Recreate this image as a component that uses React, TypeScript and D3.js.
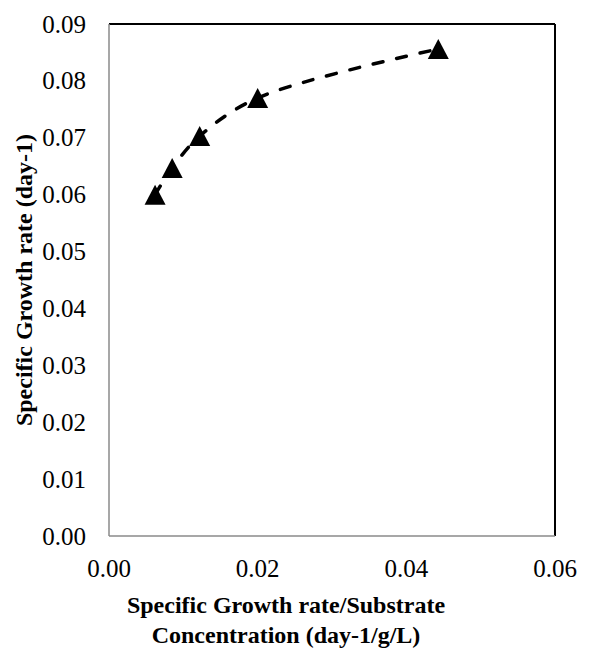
import React from "react";
import * as d3 from "d3";

// Specific growth rate / substrate concentration (day-1/g/L)
const ratioValues = [0.0062, 0.0085, 0.0122, 0.02, 0.0443];
// Specific growth rate (day-1)
const growthValues = [0.06, 0.0647, 0.0703, 0.077, 0.0856];

const xTicks = [0, 0.02, 0.04, 0.06];
const yTicks = [0, 0.01, 0.02, 0.03, 0.04, 0.05, 0.06, 0.07, 0.08, 0.09];

const xTitleLines = ["Specific Growth rate/Substrate", "Concentration (day-1/g/L)"];
const yTitle = "Specific Growth rate (day-1)";

const W = 600;
const H = 655;
const M = { left: 109, right: 45, top: 24, bottom: 119 };
const FONT = "Liberation Serif";

export default function App() {
  const x = d3.scaleLinear().domain([0, 0.06]).range([M.left, W - M.right]);
  const y = d3.scaleLinear().domain([0, 0.09]).range([H - M.bottom, M.top]);

  const points = ratioValues.map((v, i) => [v, growthValues[i]] as [number, number]);
  const line = d3
    .line<[number, number]>()
    .x((d) => x(d[0]))
    .y((d) => y(d[1]))
    .curve(d3.curveCatmullRom.alpha(0.5));

  const triW = 21;
  const triH = 20;
  const tri = `M0,${-triH / 2}L${triW / 2},${triH / 2}L${-triW / 2},${triH / 2}Z`;

  const [x0, x1] = x.range();
  const [y0, y1] = y.range();

  return (
    <svg
      width={W}
      height={H}
      style={{ position: "absolute", left: 0, top: 0, background: "#fff" }}
    >
      {/* plot frame: grey axes on left/bottom, black on top/right */}
      <line x1={x0} x2={x1} y1={y1} y2={y1} stroke="#000" strokeWidth={2} />
      <line x1={x1} x2={x1} y1={y1} y2={y0} stroke="#000" strokeWidth={2} />
      <line x1={x0} x2={x0} y1={y1} y2={y0} stroke="#8a8a8a" strokeWidth={1.5} />
      <line x1={x0} x2={x1} y1={y0} y2={y0} stroke="#8a8a8a" strokeWidth={1.5} />

      {yTicks.map((t) => (
        <text
          key={`y${t}`}
          x={86}
          y={y(t) + 8.5}
          textAnchor="end"
          fontSize={25}
          fontFamily={FONT}
          fill="#000"
        >
          {t.toFixed(2)}
        </text>
      ))}
      {xTicks.map((t) => (
        <text
          key={`x${t}`}
          x={x(t)}
          y={577}
          textAnchor="middle"
          fontSize={25}
          fontFamily={FONT}
          fill="#000"
        >
          {t.toFixed(2)}
        </text>
      ))}

      {xTitleLines.map((s, i) => (
        <text
          key={s}
          x={286}
          y={613 + i * 30}
          textAnchor="middle"
          fontSize={24}
          fontWeight="bold"
          fontFamily={FONT}
          fill="#000"
        >
          {s}
        </text>
      ))}
      <text
        transform={`translate(32,${(y0 + y1) / 2}) rotate(-90)`}
        textAnchor="middle"
        fontSize={24}
        fontWeight="bold"
        fontFamily={FONT}
        fill="#000"
      >
        {yTitle}
      </text>

      <path
        d={line(points) ?? ""}
        fill="none"
        stroke="#000"
        strokeWidth={3.5}
        strokeDasharray="10 14"
        strokeLinecap="round"
      />
      {points.map((p, i) => (
        <path key={i} d={tri} transform={`translate(${x(p[0])},${y(p[1])})`} fill="#000" />
      ))}
    </svg>
  );
}
